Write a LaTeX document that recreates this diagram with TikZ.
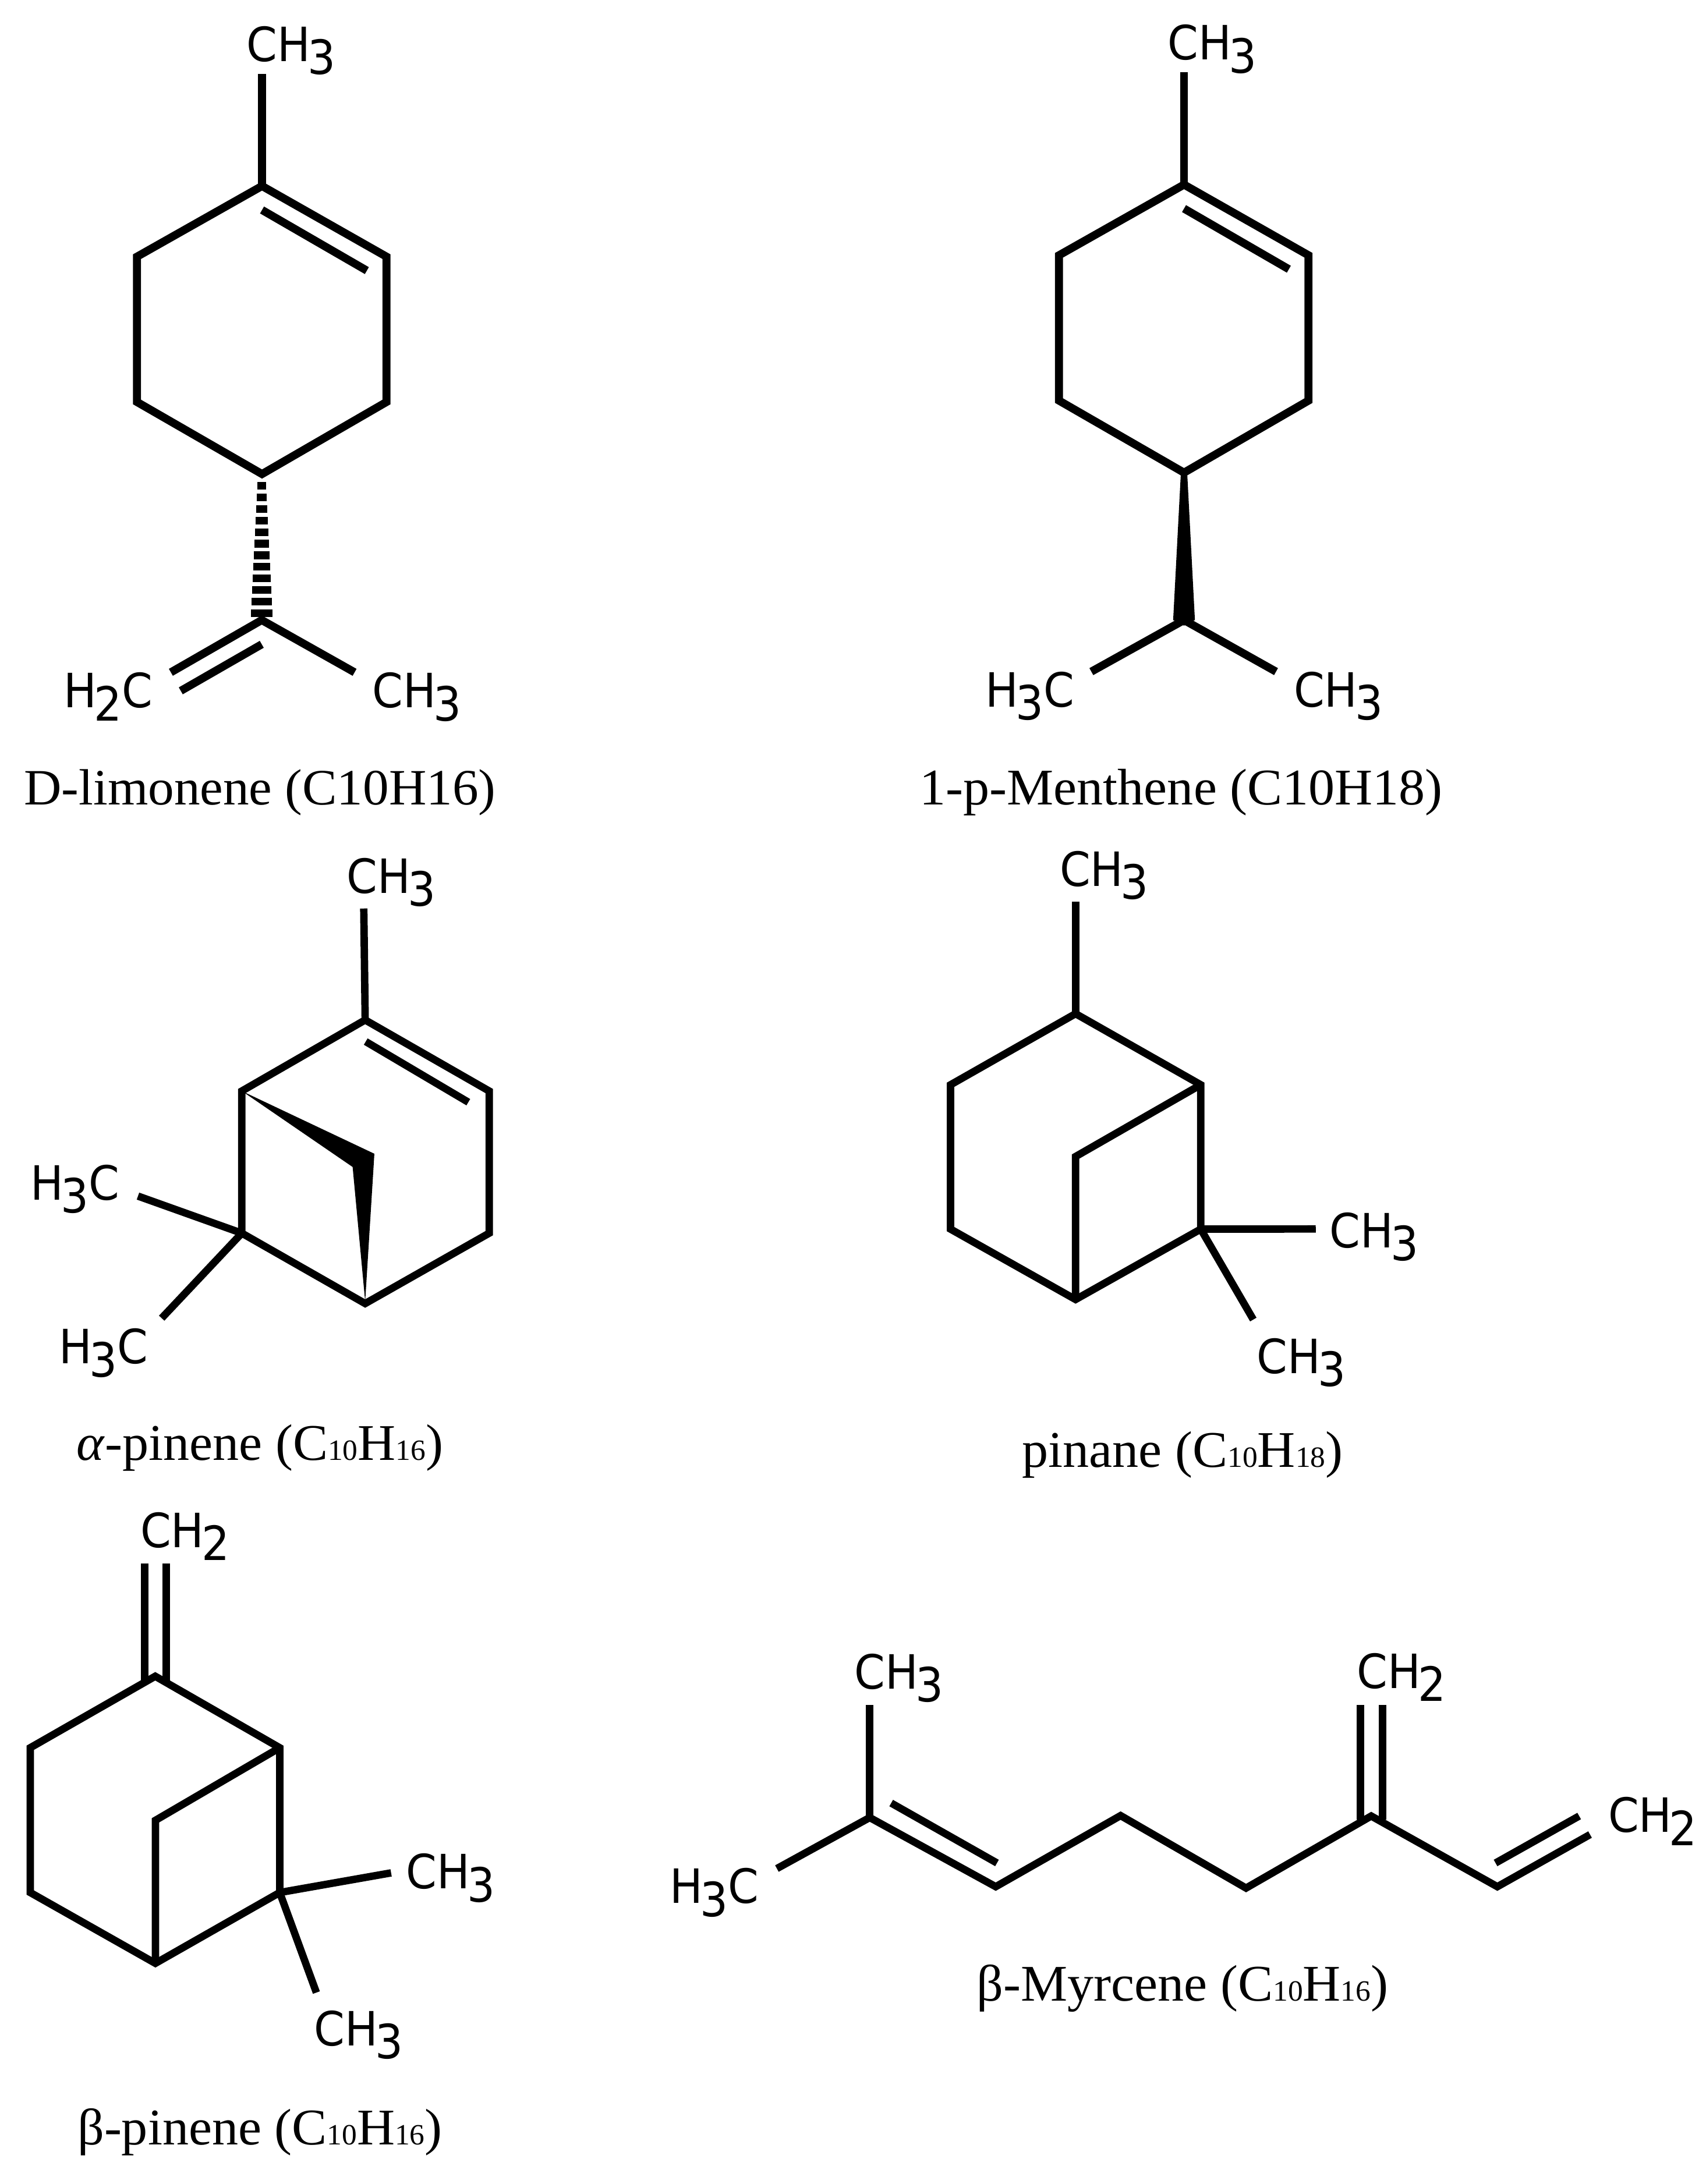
\documentclass[tikz,border=0pt]{standalone}
\usepackage{fontspec}
\setmainfont[FakeStretch=1.02]{Liberation Serif}
\newfontfamily\atomfont[FakeStretch=0.93]{DejaVu Sans}
\newcommand{\lowd}[1]{\kern-1.1pt\raisebox{-5.3pt}{#1}}
\newcommand{\smd}[1]{{\fontsize{12}{14}\selectfont #1}}
\tikzset{
  x=0.02cm, y=-0.02cm,
  bond/.style={line width=3.02pt, line join=miter, miter limit=10, line cap=butt},
  bondheavy/.style={bond, line width=3.26pt},
  wedgefill/.style={fill=black, draw=none},
  atomlab/.style={anchor=base west, inner sep=0pt, font=\atomfont\fontsize{19.3}{23}\selectfont},
  caplab/.style={anchor=base, inner sep=0pt, font=\fontsize{21}{25}\selectfont},
}
\begin{document}
\begin{tikzpicture}
\fill[white] (0,0) rectangle (1224,1567.4);
\useasboundingbox (0,0) rectangle (1224,1567.4);

% D-limonene
\coordinate (L1) at (188,133.5); \coordinate (L2) at (277.3,184.2); \coordinate (L3) at (277.3,288.5);
\coordinate (L4) at (188,340.2); \coordinate (L5) at (98.3,288.5); \coordinate (L6) at (98.3,184.2);
\coordinate (Lm) at (188,53); \coordinate (Lj) at (187.8,445);
\coordinate (La) at (122.6,482.5); \coordinate (Lb) at (254.4,482.5);
\coordinate (Lc) at (187.8,462.4); \coordinate (Ld) at (129.7,495.8);
\coordinate (Le) at (188,150.7); \coordinate (Lf) at (263.2,194.2);
\draw[bondheavy] (L1)--(L2)--(L3)--(L4)--(L5)--(L6)--cycle;
\draw[bondheavy] (L1)--(Lm);
\draw[bondheavy] (Le)--(Lf);
\draw[bondheavy] (La)--(Lj)--(Lb);
\draw[bondheavy] (Lc)--(Ld);
\foreach \i in {0,...,11}{
  \fill[black] ({187.8-(15.4-0.8*\i)/2},{440.1-8.32*\i-2.75}) rectangle ({187.8+(15.4-0.8*\i)/2},{440.1-8.32*\i+2.75});
}
\node[atomlab] (Lt1) at (176.5,44) {CH\lowd{3}};
\node[atomlab] (Lt2) at (45.4,507.9) {H\lowd{2}C};
\node[atomlab] (Lt3) at (267,507.9) {CH\lowd{3}};
\node[caplab, font=\fontsize{20.8}{25}\selectfont] (Lcap) at (186.5,577.5) {D-limonene (C10H16)};

% 1-p-Menthene
\coordinate (M1) at (849.5,132.5); \coordinate (M2) at (938.8,183.2); \coordinate (M3) at (938.8,287.5);
\coordinate (M4) at (849.5,339.2); \coordinate (M5) at (759.8,287.5); \coordinate (M6) at (759.8,183.2);
\coordinate (Mm) at (849.5,52); \coordinate (Mj) at (849.5,445);
\coordinate (Ma) at (783,482); \coordinate (Mb) at (915.5,482);
\coordinate (Me) at (849.5,149.7); \coordinate (Mf) at (924.7,193.2);
\draw[bondheavy] (M1)--(M2)--(M3)--(M4)--(M5)--(M6)--cycle;
\draw[bondheavy] (M1)--(Mm);
\draw[bondheavy] (Me)--(Mf);
\draw[bondheavy] (Ma)--(Mj)--(Mb);
\fill[wedgefill] (847.2,340)--(851.8,340)--(857.3,445)--(849.5,449)--(841.7,445)--cycle;
\node[atomlab] (Mt1) at (837.5,43) {CH\lowd{3}};
\node[atomlab] (Mt2) at (706.5,507.4) {H\lowd{3}C};
\node[atomlab] (Mt3) at (928,507.4) {CH\lowd{3}};
\node[caplab] (Mcap) at (847.5,577.5) {1-p-Menthene (C10H18)};

% alpha-pinene
\coordinate (A1) at (262,732); \coordinate (A2) at (351,783); \coordinate (A3) at (351,885);
\coordinate (A4) at (262,935.5); \coordinate (A5) at (173.5,885); \coordinate (A6) at (173.5,783);
\coordinate (Am) at (261,652); \coordinate (Ae) at (262.4,747.5); \coordinate (Af) at (336,791);
\coordinate (Ap) at (99,858.4); \coordinate (Aq) at (116,946);
\coordinate (Aw1) at (268.6,828); \coordinate (Aw2) at (253,837.5); \coordinate (Atip) at (262,934);
\draw[bond] (A1)--(A2)--(A3)--(A4)--(A5)--(A6)--cycle;
\draw[bond] (A1)--(Am);
\draw[bond] (Ae)--(Af);
\draw[bond] (A5)--(Ap);
\draw[bond] (A5)--(Aq);
\fill[wedgefill] (A6)--(Aw1)--(Atip)--(Aw2)--cycle;
\node[atomlab] (At1) at (248.5,641) {CH\lowd{3}};
\node[atomlab] (At2) at (21.5,861) {H\lowd{3}C};
\node[atomlab] (At3) at (42,978.7) {H\lowd{3}C};
\node[caplab] (Acap) at (186.5,1048) {\textit{α}-pinene (C\smd{10}H\smd{16})};

% pinane
\coordinate (P1) at (771.7,727.5); \coordinate (P2) at (861.5,778.5); \coordinate (P3) at (861.5,882.1);
\coordinate (P4) at (771.7,932.6); \coordinate (P5) at (682,882.1); \coordinate (P6) at (682,778.5);
\coordinate (Pm) at (771.7,647); \coordinate (Pb) at (771.7,830);
\coordinate (Pr) at (944,882); \coordinate (Ps) at (899.2,947);
\draw[bond] (P1)--(P2)--(P3)--(P4)--(P5)--(P6)--cycle;
\draw[bond] (P1)--(Pm);
\draw[bond] (P2)--(Pb)--(P4);
\draw[bond] (P3)--(Pr);
\draw[bond] (P3)--(Ps);
\node[atomlab] (Pt1) at (760,636) {CH\lowd{3}};
\node[atomlab] (Pt2) at (953.5,895.5) {CH\lowd{3}};
\node[atomlab] (Pt3) at (901.5,985.5) {CH\lowd{3}};
\node[caplab] (Pcap) at (848.5,1053) {pinane (C\smd{10}H\smd{18})};

% beta-pinene
\coordinate (B1) at (111.4,1203); \coordinate (B2) at (200.7,1254.3); \coordinate (B3) at (200.7,1358.2);
\coordinate (B4) at (111.5,1409); \coordinate (B5) at (21.7,1358.2); \coordinate (B6) at (21.7,1254.3);
\coordinate (Bb) at (111.5,1306.4); \coordinate (Br) at (280.6,1344.1); \coordinate (Bs) at (227,1430);
\coordinate (Bu1) at (103.7,1122); \coordinate (Bv1) at (103.7,1206);
\coordinate (Bu2) at (119.2,1122); \coordinate (Bv2) at (119.2,1206);
\draw[bond] (Bu1)--(Bv1);
\draw[bond] (Bu2)--(Bv2);
\draw[bond] (B1)--(B2)--(B3)--(B4)--(B5)--(B6)--cycle;
\draw[bond] (B2)--(Bb)--(B4);
\draw[bond] (B3)--(Br);
\draw[bond] (B3)--(Bs);
\node[atomlab] (Bt1) at (100.4,1110.6) {CH\lowd{2}};
\node[atomlab] (Bt2) at (291,1355.5) {CH\lowd{3}};
\node[atomlab] (Bt3) at (225,1468) {CH\lowd{3}};
\node[caplab] (Bcap) at (186.5,1539) {β-pinene (C\smd{10}H\smd{16})};

% beta-myrcene
\coordinate (C1) at (557.4,1341); \coordinate (C2) at (624,1304.4); \coordinate (C3) at (714.4,1354);
\coordinate (C4) at (804,1303); \coordinate (C5) at (894,1355); \coordinate (C6) at (983.8,1303.3);
\coordinate (C7) at (1074.3,1354); \coordinate (C8) at (1140.8,1316.6);
\coordinate (Cm) at (624,1223.5);
\coordinate (Ce) at (639.4,1294); \coordinate (Cf) at (715.3,1337);
\coordinate (Cg) at (1073,1337); \coordinate (Ch) at (1133,1303.3);
\coordinate (Cu1) at (976,1223.5); \coordinate (Cv1) at (976,1306);
\coordinate (Cu2) at (991.8,1223.5); \coordinate (Cv2) at (991.8,1306);
\draw[bond] (Cu1)--(Cv1);
\draw[bond] (Cu2)--(Cv2);
\draw[bond] (C2)--(Cm);
\draw[bond] (C1)--(C2)--(C3)--(C4)--(C5)--(C6)--(C7)--(C8);
\draw[bond] (Ce)--(Cf);
\draw[bond] (Cg)--(Ch);
\node[atomlab] (Ct1) at (612.8,1212) {CH\lowd{3}};
\node[atomlab] (Ct2) at (480.2,1366) {H\lowd{3}C};
\node[atomlab] (Ct3) at (973.2,1211.7) {CH\lowd{2}};
\node[atomlab] (Ct4) at (1153.5,1315) {CH\lowd{2}};
\node[caplab] (Ccap) at (848.5,1436) {β-Myrcene (C\smd{10}H\smd{16})};
\end{tikzpicture}
\end{document}
